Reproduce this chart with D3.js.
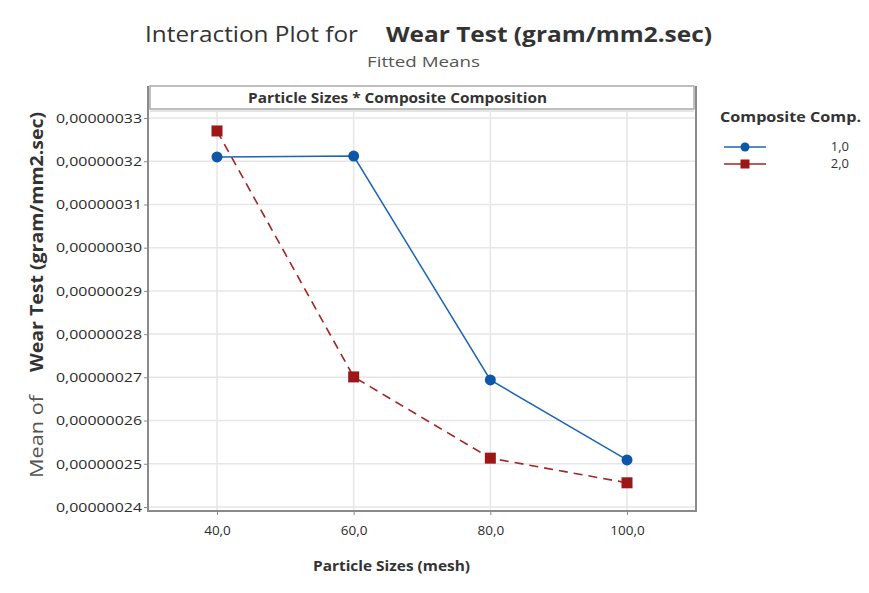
<!DOCTYPE html>
<html>
<head>
<meta charset="utf-8">
<script src="https://cdn.jsdelivr.net/npm/d3@7"></script>
<style>
  body { margin: 0; background: #fff; }
  text { font-family: "Open Sans", "Noto Sans", sans-serif; }
</style>
</head>
<body>
<div id="chart"></div>
<script>
// particle sizes (mesh)
var sizes = [40, 60, 80, 100];
// fitted means per composite composition
var comp1 = [0.0000003210, 0.0000003212, 0.0000002694, 0.0000002509];
var comp2 = [0.0000003270, 0.0000002701, 0.0000002513, 0.0000002456];
var seriesNames = ["1,0", "2,0"];
var yTicks = [0.00000024, 0.00000025, 0.00000026, 0.00000027, 0.00000028,
              0.00000029, 0.00000030, 0.00000031, 0.00000032, 0.00000033];

var W = 869, H = 593;
var svg = d3.select("#chart").append("svg")
    .attr("width", W).attr("height", H);

var x = d3.scaleLinear().domain([40, 100]).range([217, 627]);
var y = d3.scaleLinear().domain([0.00000024, 0.00000033]).range([507, 118]);

var fmt = function (v) { return d3.format(".8f")(v).replace(".", ","); };

var pL = 148, pR = 696, pT = 86, pB = 511;

// grid
svg.append("g").selectAll("line.h").data(yTicks).enter().append("line")
  .attr("x1", pL).attr("x2", pR)
  .attr("y1", function (d) { return y(d); })
  .attr("y2", function (d) { return y(d); })
  .attr("stroke", "#e6e6e6").attr("stroke-width", 1.5);
svg.append("g").selectAll("line.v").data(sizes).enter().append("line")
  .attr("x1", function (d) { return x(d); })
  .attr("x2", function (d) { return x(d); })
  .attr("y1", 112).attr("y2", pB)
  .attr("stroke", "#e6e6e6").attr("stroke-width", 1.5);

// header strip
svg.append("rect").attr("x", pL + 2).attr("y", pT)
  .attr("width", pR - pL - 4).attr("height", 23)
  .attr("fill", "#fff").attr("stroke", "#aaa").attr("stroke-width", 1.5);
svg.append("line").attr("x1", pL + 2).attr("x2", pR - 2)
  .attr("y1", pT + 25).attr("y2", pT + 25)
  .attr("stroke", "#ddd").attr("stroke-width", 1.5);
svg.append("text").attr("x", 248).attr("y", pT + 17)
  .attr("font-size", 14).attr("font-weight", "bold")
  .attr("textLength", 299).attr("lengthAdjust", "spacingAndGlyphs")
  .attr("fill", "#333").text("Particle Sizes * Composite Composition");

// frame
svg.append("path")
  .attr("d", "M" + pL + "," + pT + "V" + pB + "H" + pR + "V" + pT)
  .attr("fill", "none").attr("stroke", "#8a8a8a").attr("stroke-width", 2);

// axes
var yAxis = d3.axisLeft(y).tickValues(yTicks).tickFormat(fmt).tickSize(4);
var gy = svg.append("g").attr("transform", "translate(" + pL + ",0)").call(yAxis);
var xAxis = d3.axisBottom(x).tickValues(sizes)
  .tickFormat(function (d) { return d3.format(".1f")(d).replace(".", ","); }).tickSize(4);
var gx = svg.append("g").attr("transform", "translate(0," + pB + ")").call(xAxis);
[gy, gx].forEach(function (g) {
  g.select(".domain").remove();
  g.selectAll(".tick line").attr("stroke", "#8a8a8a");
  g.selectAll(".tick text").attr("fill", "#2b2b2b").attr("font-size", 13.5)
    .style("font-family", "'Open Sans', sans-serif");
});
gy.selectAll(".tick text").attr("textLength", 86).attr("lengthAdjust", "spacingAndGlyphs").attr("x", -6);
gx.selectAll(".tick text").attr("dy", "1.25em");

// lines
var line = d3.line()
  .x(function (d, i) { return x(sizes[i]); })
  .y(function (d) { return y(d); });

svg.append("path").datum(comp2).attr("d", line)
  .attr("fill", "none").attr("stroke", "#a32424").attr("stroke-width", 1.6)
  .attr("stroke-dasharray", "9,6");
svg.append("path").datum(comp1).attr("d", line)
  .attr("fill", "none").attr("stroke", "#1c64b4").attr("stroke-width", 1.5);

svg.append("g").selectAll("circle").data(comp1).enter().append("circle")
  .attr("cx", function (d, i) { return x(sizes[i]); })
  .attr("cy", function (d) { return y(d); })
  .attr("r", 5.5).attr("fill", "#0d57a8");
svg.append("g").selectAll("rect").data(comp2).enter().append("rect")
  .attr("x", function (d, i) { return x(sizes[i]) - 5.5; })
  .attr("y", function (d) { return y(d) - 5.5; })
  .attr("width", 11).attr("height", 11).attr("fill", "#9e1717");

// titles
svg.append("text").attr("x", 145).attr("y", 42).attr("font-size", 21).attr("fill", "#333")
  .attr("textLength", 213).attr("lengthAdjust", "spacingAndGlyphs").text("Interaction Plot for");
svg.append("text").attr("x", 386).attr("y", 42).attr("font-size", 21).attr("fill", "#333")
  .attr("font-weight", "bold")
  .attr("textLength", 326).attr("lengthAdjust", "spacingAndGlyphs").text("Wear Test (gram/mm2.sec)");
svg.append("text").attr("x", 367).attr("y", 67).attr("font-size", 15).attr("fill", "#555")
  .attr("textLength", 113).attr("lengthAdjust", "spacingAndGlyphs").text("Fitted Means");

svg.append("text").attr("x", 313).attr("y", 571)
  .attr("font-size", 15).attr("font-weight", "bold").attr("fill", "#333")
  .attr("textLength", 157).attr("lengthAdjust", "spacingAndGlyphs")
  .text("Particle Sizes (mesh)");

svg.append("text").attr("transform", "translate(43,478) rotate(-90)")
  .attr("font-size", 18).attr("fill", "#555")
  .attr("textLength", 83).attr("lengthAdjust", "spacingAndGlyphs").text("Mean of");
svg.append("text").attr("transform", "translate(43,372) rotate(-90)")
  .attr("font-size", 18).attr("fill", "#333").attr("font-weight", "bold")
  .attr("textLength", 260).attr("lengthAdjust", "spacingAndGlyphs").text("Wear Test (gram/mm2.sec)");

// legend
svg.append("text").attr("x", 720).attr("y", 122).attr("font-size", 14)
  .attr("font-weight", "bold").attr("fill", "#333")
  .attr("textLength", 141).attr("lengthAdjust", "spacingAndGlyphs").text("Composite Comp.");
var leg = [{ c: "#1c64b4", shape: "circle" }, { c: "#a32424", shape: "square" }];
leg.forEach(function (l, i) {
  var ly = 147 + i * 17;
  svg.append("line").attr("x1", 724).attr("x2", 766).attr("y1", ly).attr("y2", ly)
    .attr("stroke", l.c).attr("stroke-width", 1.5);
  if (l.shape === "circle") {
    svg.append("circle").attr("cx", 745).attr("cy", ly).attr("r", 4.5).attr("fill", "#0d57a8");
  } else {
    svg.append("rect").attr("x", 740.5).attr("y", ly - 4.5).attr("width", 9).attr("height", 9).attr("fill", "#9e1717");
  }
  svg.append("text").attr("x", 849).attr("y", ly + 4).attr("text-anchor", "end")
    .attr("font-size", 13).attr("fill", "#333").text(seriesNames[i]);
});
</script>
</body>
</html>
